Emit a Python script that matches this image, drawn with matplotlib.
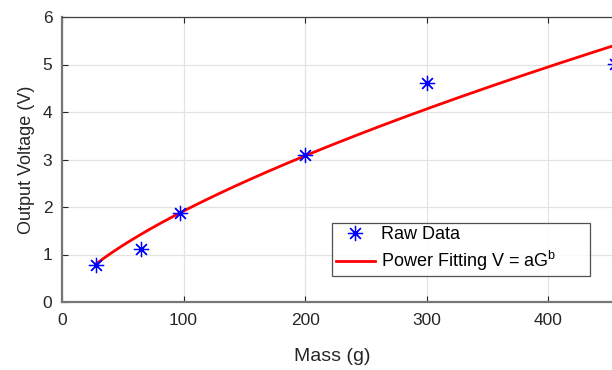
import matplotlib
matplotlib.use("Agg")
import matplotlib.pyplot as plt
import numpy as np

plt.rcParams["font.family"] = ["Liberation Sans", "DejaVu Sans"]

# raw measurements
mass_g = [28, 65, 97, 200, 300, 455]
voltage_v = [0.78, 1.11, 1.87, 3.09, 4.62, 5.01]

# power fit V = a * G^b (parameters)
fit_a = 0.0817
fit_b = 0.685
fit_x = np.linspace(28, 470, 200)
fit_y = fit_a * fit_x ** fit_b

x_ticks = [0, 100, 200, 300, 400]
y_ticks = [0, 1, 2, 3, 4, 5, 6]

fig = plt.figure(figsize=(6.12, 3.70), dpi=100)
ax = fig.add_axes([62 / 612, 1 - 302 / 370, 608 / 612, 285 / 370])

ax.plot(fit_x, fit_y, color="red", linewidth=2,
        label="Power Fitting V = aG$^{\\mathregular{b}}$", zorder=3)
ax.plot(mass_g, voltage_v, linestyle="none", marker=(8, 2, 0), markersize=11,
        color="blue", markeredgewidth=0.9, label="Raw Data", zorder=4,
        clip_on=False)

ax.set_xlim(0, 500)
ax.set_ylim(0, 6)
ax.set_xticks(x_ticks)
ax.set_yticks(y_ticks)
ax.grid(True, color="#e3e3e3", linewidth=0.9)
ax.set_axisbelow(True)

ax.tick_params(direction="in", length=4, labelsize=12.5, colors="#262626",
               top=True)
ax.tick_params(axis="x", pad=8)
ax.tick_params(axis="y", pad=7)
for side in ["left", "bottom", "top"]:
    ax.spines[side].set_color("#404040")
    ax.spines[side].set_linewidth(0.9)
ax.spines["left"].set_color("#777777")
ax.spines["bottom"].set_color("#777777")
ax.spines["left"].set_linewidth(1.6)
ax.spines["bottom"].set_linewidth(1.6)
ax.spines["right"].set_visible(False)

ax.set_xlabel("Mass (g)", fontsize=14, color="#262626")
ax.xaxis.set_label_coords((332 - 62) / 608, -(348 - 302) / 285)
ax.set_ylabel("Output Voltage (V)", fontsize=13, color="#262626")
ax.yaxis.set_label_coords(-27 / 608, 0.5)

handles, labels = ax.get_legend_handles_labels()
leg = ax.legend(handles[::-1], labels[::-1], loc="upper left",
                bbox_to_anchor=((332 - 62) / 608, (302 - 223) / 285,
                                258 / 608, 0.001),
                mode="expand",
                fontsize=13, frameon=True, fancybox=False,
                edgecolor="#262626", borderpad=0.2, handlelength=2.2,
                handletextpad=0.3, labelspacing=0.3, borderaxespad=0)
leg.get_frame().set_linewidth(0.9)

fig.savefig("out.png", dpi=100)
